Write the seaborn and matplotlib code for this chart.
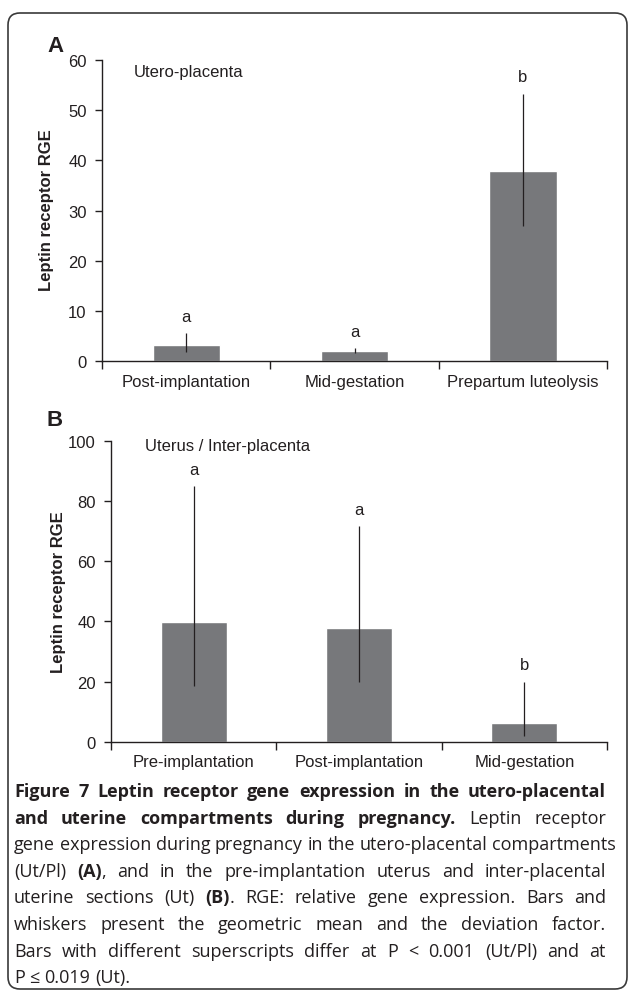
import numpy as np
import seaborn as sns
import matplotlib.pyplot as plt
from matplotlib.patches import FancyBboxPatch

# Panel A: utero-placenta
cats_a = ['Post-implantation', 'Mid-gestation', 'Prepartum luteolysis']
mean_a = np.array([3.1, 2.0, 37.8])
low_a = np.array([1.7, 1.5, 26.9])
high_a = np.array([5.6, 2.6, 53.2])
letters_a = ['a', 'a', 'b']
letter_y_a = [8.8, 5.8, 56.8]

# Panel B: uterus / inter-placenta
cats_b = ['Pre-implantation', 'Post-implantation', 'Mid-gestation']
mean_b = np.array([39.7, 37.7, 6.4])
low_b = np.array([18.6, 19.9, 2.0])
high_b = np.array([84.9, 71.6, 19.9])
letters_b = ['a', 'a', 'b']
letter_y_b = [90.6, 77.0, 25.7]

caption = [
    ("*Figure 7 Leptin receptor gene expression in the utero-placental", True),
    ("and uterine compartments during pregnancy.* Leptin receptor", True),
    ("gene expression during pregnancy in the utero-placental compartments", False),
    ("(Ut/Pl) *(A)*, and in the pre-implantation uterus and inter-placental", True),
    ("uterine sections (Ut) *(B)*. RGE: relative gene expression. Bars and", True),
    ("whiskers present the geometric mean and the deviation factor.", True),
    ("Bars with different superscripts differ at P < 0.001 (Ut/Pl) and at", True),
    ("P \u2264 0.019 (Ut).", False),
]

sns.set_theme(style='white')
plt.rcParams['font.family'] = ['Liberation Sans', 'DejaVu Sans']
ink = '#231f20'
bar_col = '#77787b'

W, H = 629, 1003
fig = plt.figure(figsize=(W / 100, H / 100), dpi=100)
fig.patch.set_facecolor('white')


def panel(rect, cats, mean, low, high, letters, letter_y, ymax, step, note, note_xy):
    ax = fig.add_axes(rect)
    sns.barplot(x=cats, y=mean, color=bar_col, saturation=1, width=0.4, ax=ax)
    ax.errorbar(np.arange(len(cats)), mean, yerr=[mean - low, high - mean],
                fmt='none', ecolor=ink, elinewidth=0.9, capsize=0, zorder=3)
    for i, (t, y) in enumerate(zip(letters, letter_y)):
        ax.text(i, y, t, ha='center', va='center', fontsize=12, color=ink)
    ax.text(note_xy[0], note_xy[1], note, ha='left', va='center', fontsize=12, color=ink)
    ax.set_xlim(-0.5, len(cats) - 0.5)
    ax.set_ylim(0, ymax)
    ax.set_yticks(np.arange(0, ymax + 1, step))
    ax.set_xticks(np.arange(-0.5, len(cats)), minor=True)
    ax.tick_params(axis='x', which='major', length=0, pad=9, labelsize=12, labelcolor=ink)
    ax.tick_params(axis='x', which='minor', length=6, width=1, color=ink, direction='out', bottom=True)
    ax.tick_params(axis='y', length=5, width=1, color=ink, direction='out', left=True,
                   pad=6, labelsize=12, labelcolor=ink)
    for s in ['top', 'right']:
        ax.spines[s].set_visible(False)
    for s in ['left', 'bottom']:
        ax.spines[s].set_color(ink)
        ax.spines[s].set_linewidth(1.0)
    ax.set_facecolor('none')
    return ax


ax_a = panel([102 / W, 1 - 362 / H, 505 / W, 301 / H], cats_a, mean_a, low_a, high_a,
             letters_a, letter_y_a, 60, 10, 'Utero-placenta', (-0.31, 57.8))
ax_a.set_ylabel('Leptin receptor RGE', fontsize=12, fontweight='bold', color=ink)
ax_a.yaxis.set_label_coords(-0.095, 0.505)

ax_b = panel([111 / W, 1 - 743 / H, 496 / W, 301.3 / H], cats_b, mean_b, low_b, high_b,
             letters_b, letter_y_b, 100, 20, 'Uterus / Inter-placenta', (-0.294, 98.3))
ax_b.set_ylabel('Leptin receptor RGE', fontsize=12, fontweight='bold', color=ink)
ax_b.yaxis.set_label_coords(-0.091, 0.5)

fig.text(55 / W, 1 - 46 / H, 'A', fontsize=16, fontweight='bold', color=ink, ha='center', va='center')
fig.text(55 / W, 1 - 420 / H, 'B', fontsize=16, fontweight='bold', color=ink, ha='center', va='center')

# frame round the figure
frame = FancyBboxPatch((8, H - 990), 619, 976, boxstyle='round,pad=0,rounding_size=12',
                       transform=None, fill=False, edgecolor='#3a3a3a', linewidth=1.2)
fig.add_artist(frame)

# caption, justified line by line
cap_font = ['Open Sans', 'DejaVu Sans']
cap_fs = 13.0
left, right = 14, 606
base0, lead = 797, 26.6
fig.canvas.draw()
r = fig.canvas.get_renderer()


def measure(s, bold):
    t = fig.text(0, 0, s, fontsize=cap_fs, family=cap_font,
                 fontweight='bold' if bold else 'normal')
    w = t.get_window_extent(r).width
    t.remove()
    return w


bold = False
for k, (line, justify) in enumerate(caption):
    words = []
    for w in line.split(' '):
        pieces = []
        for j, part in enumerate(w.split('*')):
            if j > 0:
                bold = not bold
            if part:
                pieces.append((part, bold))
        words.append(pieces)
    widths = [sum(measure(p, b) for p, b in ws) for ws in words]
    space = measure('a a', False) - measure('aa', False)
    if justify and len(words) > 1:
        gap = (right - left - sum(widths)) / (len(words) - 1)
    else:
        gap = space
    x = left
    y = base0 + k * lead
    for ws, wd in zip(words, widths):
        xx = x
        for p, b in ws:
            fig.text(xx / W, 1 - y / H, p, fontsize=cap_fs, family=cap_font, color=ink,
                     fontweight='bold' if b else 'normal', va='baseline', ha='left')
            xx += measure(p, b)
        x += wd + gap

fig.savefig('out.png', dpi=100)
